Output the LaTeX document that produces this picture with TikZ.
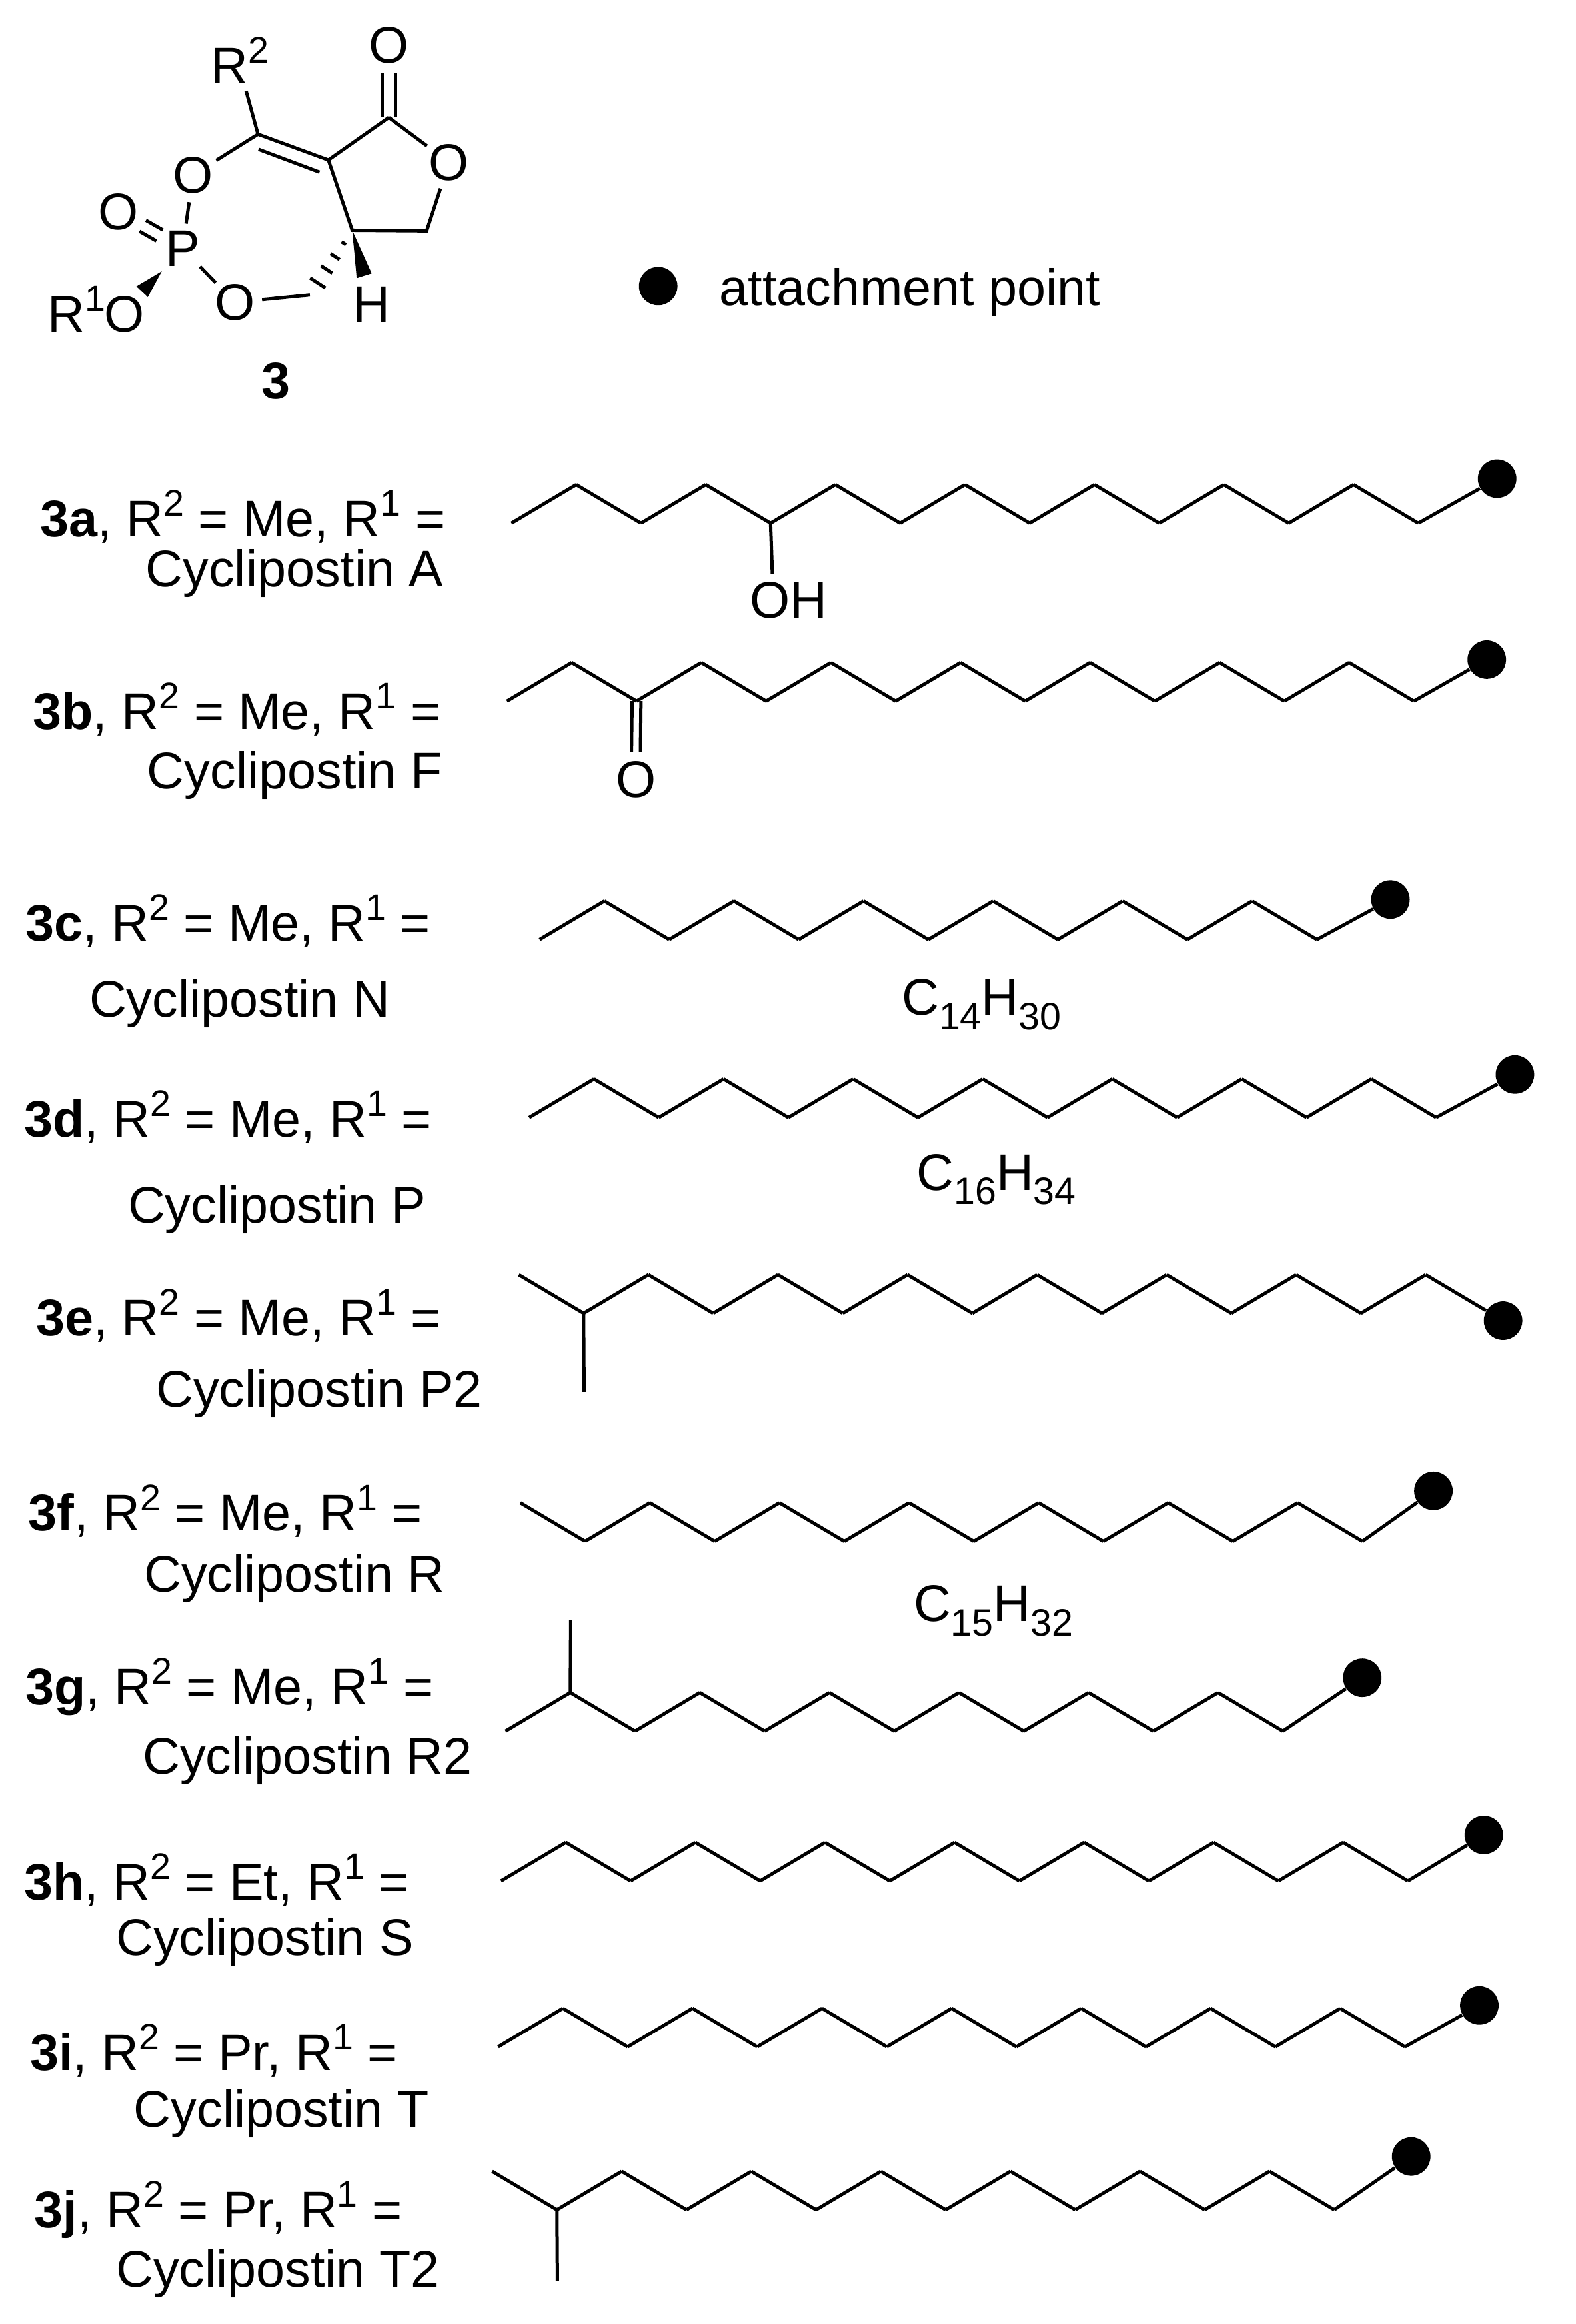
\documentclass[tikz,border=0pt]{standalone}
\usepackage{fontspec}
\setmainfont{Liberation Sans}
\usetikzlibrary{calc}

\newcommand{\upx}{0.02224cm}
\newcommand{\sups}[1]{\raisebox{0.4em}{\fontsize{15.8}{16}\selectfont #1}}
\newcommand{\subs}[1]{\raisebox{-0.28em}{\fontsize{16.3}{16}\selectfont #1}}

% one alkyl chain: name, start x, start y, first step (-1 up, 1 down), segments, ball position
\newcommand{\chain}[6]{
  \node[ball] (#1ball) at (#6) {};
  \foreach \k in {0,...,#5} {
    \pgfmathsetmacro{\cx}{#2+\k*43.7}
    \pgfmathsetmacro{\cy}{#3+(#4)*26*mod(\k,2)}
    \coordinate (#1\k) at (\cx,\cy);
  }
  \foreach \k [remember=\k as \last (initially 0)] in {1,...,#5} {
    \draw[bond] (#1\last) -- (#1\k);
  }
  \draw[bond] (#1#5) -- (#1ball);
}

\tikzset{
  bond/.style={line width=0.05cm,line join=miter,line cap=butt},
  ball/.style={circle,fill=black,draw=none,minimum size=26*\upx,inner sep=0pt},
  atom/.style={circle,minimum size=35*\upx,inner sep=0pt},
  lbl/.style={anchor=base west,inner sep=0pt},
}

\begin{document}
\begin{tikzpicture}[x=\upx,y=-\upx,font=\fontsize{22}{24}\selectfont]
\path[use as bounding box,fill=white] (0,0) rectangle (1063,1568);

% ring system of 3
\node[atom] (Oc) at (262.3,30.5) {O};
\node[atom] (Ol) at (302.9,109.5) {O};
\node[atom] (Ot) at (130.2,118) {O};
\node[atom,minimum size=29*\upx] (Pa) at (123.1,167.6) {P};
\node[atom] (Od) at (80,143) {O};
\node[atom] (Ob) at (158.3,204) {O};
\node[atom] (Oe) at (84,212) {O};
\node[lbl] (Rb) at (32,224) {R\sups{1}};
\node[lbl] (Ra) at (142,56.3) {R\sups{2}};
\node[atom] (Hs) at (250.7,205.2) {H};
\node[lbl] (cmpd) at (176,269) {\bfseries 3};
\coordinate (Rs) at (166,61.4);
\coordinate (Ca) at (174,90.5);
\coordinate (Cb) at (221.5,107.9);
\coordinate (Cc) at (262.3,79.2);
\coordinate (Cd) at (287.8,155.7);
\coordinate (Ce) at (237.6,155.3);
\coordinate (Cf) at (209,199);
\draw[bond] (Rs) -- (Ca);
\draw[bond] (Ca) -- (Cb) -- (Cc);
\draw[bond] (Ot) -- (Ca);
\draw[bond] ($(Ca)+(0.4,10.2)$) -- ($(Cb)+(-6,8.2)$);
\draw[bond] ([xshift=-4.7*\upx]Oc.south) -- ([xshift=-4.7*\upx]Cc);
\draw[bond] ([xshift=4.7*\upx]Oc.south) -- ([xshift=4.7*\upx]Cc);
\draw[bond] (Cc) -- (Ol);
\draw[bond] (Ol) -- (Cd) -- (Ce) -- (Cb);
\draw[bond] (Ot) -- (Pa);
\draw[bond] (Pa) -- (Ob);
\draw[bond] (Ob) -- (Cf);
\draw[bond] ($(Od)!0.377!(Pa)+(2.2,-3.7)$) -- ($(Od)!0.642!(Pa)+(2.2,-3.7)$);
\draw[bond] ($(Od)!0.377!(Pa)+(-2.2,3.7)$) -- ($(Od)!0.642!(Pa)+(-2.2,3.7)$);
\fill (109.1,183) -- (92,193.2) -- (99.7,200.4) -- cycle;
\fill (Ce) -- (240.6,187.6) -- (250.7,184.4) -- cycle;
\foreach \t/\w in {0.2/1.1,0.406/2.3,0.605/2.9,0.814/3.9}
  \draw[bond] ($(Ce)!\t!(Cf)!\w pt!90:(Cf)$) -- ($(Ce)!\t!(Cf)!\w pt!-90:(Cf)$);

% legend
\node[ball] (key) at (444,193) {};
\node[lbl] (keytxt) at (485,206) {attachment point};

% side chains
\chain{a}{345}{353}{-1}{14}{1010,323}
\chain{b}{342}{473}{-1}{14}{1003,445}
\chain{c}{364}{634}{-1}{12}{938,607}
\chain{d}{357}{754}{-1}{14}{1022,725}
\chain{e}{350}{860}{1}{14}{1014,891}
\chain{f}{351}{1014}{1}{13}{967,1006}
\chain{g}{341}{1168}{-1}{12}{919,1132}
\chain{h}{338}{1269}{-1}{14}{1001,1238}
\chain{i}{336}{1381}{-1}{14}{998,1353}
\chain{j}{332}{1465}{1}{13}{952,1455}

% substituents on the chains
\node[atom] (OHa) at (532,405) {OH};
\coordinate (OHb) at (521,387);
\draw[bond] (a4) -- (OHb);
\node[atom] (Ok) at (429,526) {O};
\draw[bond] ([xshift=-3*\upx]b2) -- ([xshift=-3*\upx]Ok.north);
\draw[bond] ([xshift=3*\upx]b2) -- ([xshift=3*\upx]Ok.north);
\coordinate (Mee) at (394,939);
\draw[bond] (e1) -- (Mee);
\coordinate (Meg) at (385,1093);
\draw[bond] (g1) -- (Meg);
\coordinate (Mej) at (376,1539);
\draw[bond] (j1) -- (Mej);

% formulas
\node[lbl] (fc) at (608,685) {C\subs{14}H\subs{30}};
\node[lbl] (fd) at (618,803) {C\subs{16}H\subs{34}};
\node[lbl] (ff) at (616,1094) {C\subs{15}H\subs{32}};

% labels, line one
\node[lbl] (la) at (27,362) {\textbf{3a}, R\sups{2} = Me, R\sups{1} =};
\node[lbl] (lb) at (22,492) {\textbf{3b}, R\sups{2} = Me, R\sups{1} =};
\node[lbl] (lc) at (17,635) {\textbf{3c}, R\sups{2} = Me, R\sups{1} =};
\node[lbl] (ld) at (16,767) {\textbf{3d}, R\sups{2} = Me, R\sups{1} =};
\node[lbl] (le) at (24,901) {\textbf{3e}, R\sups{2} = Me, R\sups{1} =};
\node[lbl] (lf) at (19,1033) {\textbf{3f}, R\sups{2} = Me, R\sups{1} =};
\node[lbl] (lg) at (17,1150) {\textbf{3g}, R\sups{2} = Me, R\sups{1} =};
\node[lbl] (lh) at (16,1282) {\textbf{3h}, R\sups{2} = Et, R\sups{1} =};
\node[lbl] (li) at (20,1397) {\textbf{3i}, R\sups{2} = Pr, R\sups{1} =};
\node[lbl] (lj) at (23,1503) {\textbf{3j}, R\sups{2} = Pr, R\sups{1} =};

% labels, line two
\node[lbl] (na) at (98,396) {Cyclipostin A};
\node[lbl] (nb) at (99,532) {Cyclipostin F};
\node[lbl] (nc) at (60,686) {Cyclipostin N};
\node[lbl] (nd) at (86,825) {Cyclipostin P};
\node[lbl] (ne) at (105,949) {Cyclipostin P2};
\node[lbl] (nf) at (97,1074) {Cyclipostin R};
\node[lbl] (ng) at (96,1197) {Cyclipostin R2};
\node[lbl] (nh) at (78,1319) {Cyclipostin S};
\node[lbl] (ni) at (90,1435) {Cyclipostin T};
\node[lbl] (nj) at (78,1543) {Cyclipostin T2};
\end{tikzpicture}
\end{document}
